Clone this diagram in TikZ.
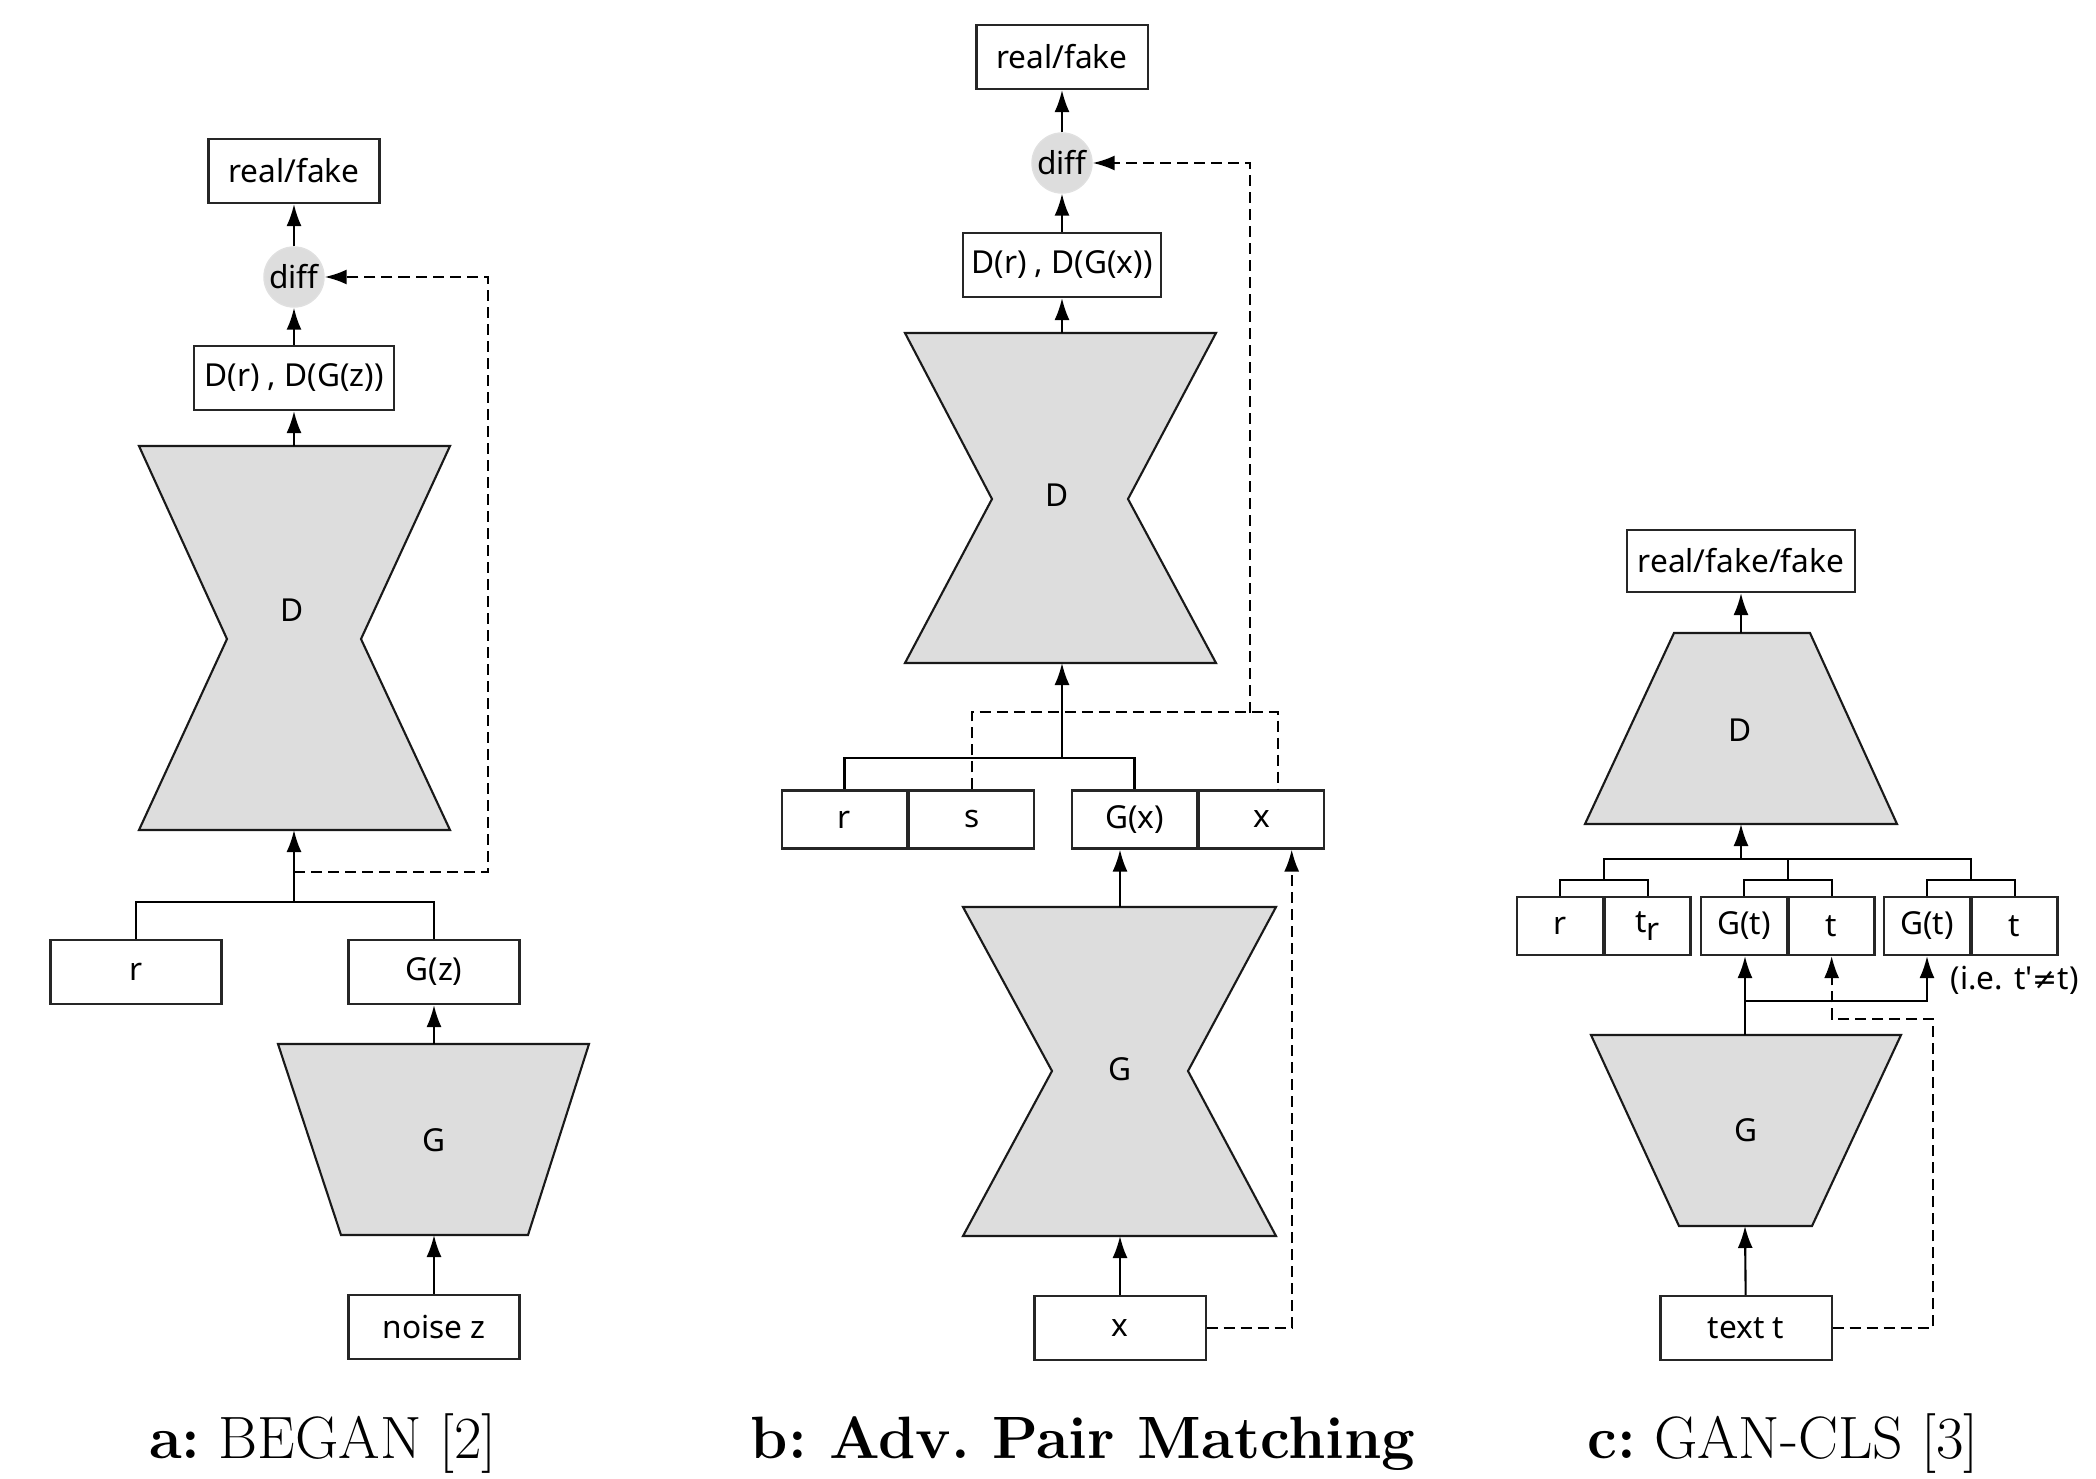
\documentclass[tikz,border=0pt]{standalone}
\usepackage{fontspec}
\setsansfont{Noto Sans}
\newfontfamily\symfont{DejaVu Sans}
\usepackage{tikz}
\usetikzlibrary{arrows.meta}
\definecolor{netgray}{HTML}{DDDDDD}

\tikzset{
  lbl/.style={font=\sffamily\fontsize{9}{10}\selectfont},
  box/.style={draw=black!85, line width=0.6pt, fill=white, lbl, minimum width=1.71cm, minimum height=0.64cm, inner sep=0pt},
  cell/.style={box, minimum width=1.25cm, minimum height=0.58cm},
  cellc/.style={box, minimum width=0.855cm, minimum height=0.58cm},
  net/.style={draw=black!90, fill=netgray, line width=0.6pt},
  diffnode/.style={circle, fill=netgray, draw=black!12, lbl, minimum size=0.6cm, inner sep=0pt},
  flow/.style={-{Latex[length=2.2mm,width=1.5mm]}, line width=0.6pt},
  link/.style={line width=0.6pt},
  fb/.style={dash pattern=on 1.1mm off 0.6mm, line width=0.6pt},
  capt/.style={font=\rmfamily\fontsize{17}{20}\selectfont\frenchspacing, inner sep=0pt, anchor=base}
}

\begin{document}
\begin{tikzpicture}[x=0.01cm,y=-0.01cm]
\useasboundingbox (0,0) rectangle (2096,1479);

%a
\node[box] (rfA) at (294,171) {real/fake};
\node[diffnode] (diffA) at (294,277) {diff};
\node[box, minimum width=2cm] (outA) at (294,378) {D(r) , D(G(z))};
\filldraw[net] (139,446) -- (450,446) -- (361,639) -- (450,830) -- (139,830) -- (227,639) -- cycle;
\node[lbl] (DA) at (292,610) {D};
\coordinate (DAtop) at (294,446);
\coordinate (DAbot) at (294,830);
\node[box] (rA) at (136,972) {r};
\node[box] (GzA) at (434,972) {G(z)};
\filldraw[net] (278,1044) -- (589,1044) -- (528,1235) -- (341,1235) -- cycle;
\node[lbl] (GA) at (434,1140) {G};
\coordinate (GAtop) at (434,1044);
\coordinate (GAbot) at (434,1235);
\node[box] (noiseA) at (434,1327) {noise z};
\coordinate (busA) at (294,902);
\coordinate (fbA) at (294,872);
\draw[link] (rA.north) |- (busA) -| (GzA.north);
\draw[flow] (busA) -- (DAbot);
\draw[flow] (DAtop) -- (outA);
\draw[flow] (outA) -- (diffA);
\draw[flow] (diffA) -- (rfA);
\draw[flow] (GAtop) -- (GzA);
\draw[flow] (noiseA) -- (GAbot);
\draw[fb,flow] (fbA) -- (488,872) |- (diffA.east);

%b
\node[box] (rfB) at (1062,57) {real/fake};
\node[diffnode] (diffB) at (1062,163) {diff};
\node[box, minimum width=1.98cm] (outB) at (1062,265) {D(r) , D(G(x))};
\filldraw[net] (905,333) -- (1216,333) -- (1128,499) -- (1216,663) -- (905,663) -- (992,499) -- cycle;
\node[lbl] (DB) at (1057,495) {D};
\coordinate (DBtop) at (1062,333);
\coordinate (DBbot) at (1062,663);
\node[cell] (rB) at (844.5,819.5) {r};
\node[cell, anchor=west] (sB) at (rB.east) {s};
\node[cell] (GxB) at (1134.5,819.5) {G(x)};
\node[cell, anchor=west] (xcB) at (GxB.east) {x};
\filldraw[net] (963,907) -- (1276,907) -- (1188,1071) -- (1276,1236) -- (963,1236) -- (1052,1071) -- cycle;
\node[lbl] (GB) at (1120,1069) {G};
\coordinate (GBtop) at (1120,907);
\coordinate (GBbot) at (1120,1236);
\node[box] (xB) at (1120,1328) {x};
\coordinate (busB) at (1062,758);
\coordinate (fbB) at (1250,713);
\draw[link] (rB.north) |- (busB) -| (GxB.north);
\draw[flow] (busB) -- (DBbot);
\draw[flow] (DBtop) -- (outB);
\draw[flow] (outB) -- (diffB);
\draw[flow] (diffB) -- (rfB);
\draw[flow] (GBtop) -- (GBtop |- GxB.south);
\draw[flow] (xB) -- (GBbot);
\draw[fb] (sB.north) -- ++(0,-77) -| ([xshift=0.16cm]xcB.north);
\draw[fb,flow] (fbB) |- (diffB.east);
\draw[fb,flow] (xB.east) -| ([xshift=0.3cm]xcB.south);

%c
\node[box, minimum width=2.28cm, minimum height=0.62cm] (rfC) at (1741,561) {real/fake/fake};
\filldraw[net] (1674,633) -- (1810,633) -- (1897,824) -- (1585,824) -- cycle;
\node[lbl] (DC) at (1740,730) {D};
\coordinate (DCtop) at (1741,633);
\coordinate (DCbot) at (1741,824);
\node[cellc] (rC) at (1560,926) {r};
\node[cellc, anchor=west] (trC) at (rC.east) {t\raisebox{-0.45ex}{\small r}};
\node[cellc] (GtC) at (1744,926) {G(t)};
\node[cellc, anchor=west] (tC) at (GtC.east) {t};
\node[cellc] (Gt2C) at (1927,926) {G(t)};
\node[cellc, anchor=west] (t2C) at (Gt2C.east) {t};
\node[lbl, anchor=west, inner sep=0pt] (neqC) at (1950,980) {(i.e. t\textquotesingle{\symfont\fontsize{8.5}{10}\selectfont ≠}t)};
\filldraw[net] (1591,1035) -- (1901,1035) -- (1812,1226) -- (1679,1226) -- cycle;
\node[lbl] (GC) at (1746,1130) {G};
\coordinate (GCtop) at (1745,1035);
\coordinate (GCbot) at (1745,1226);
\node[box] (textC) at (1746,1328) {text t};
\coordinate (busC) at (1741,859);
\coordinate (brC) at (1745,1001);
\coordinate (fbC) at (1933,1019);
\draw[link] (rC.north) -- ++(0,-16) -| (trC.north);
\draw[link] (GtC.north) -- ++(0,-16) -| (tC.north);
\draw[link] (Gt2C.north) -- ++(0,-16) -| (t2C.north);
\draw[link] ([yshift=0.16cm]rC.north east) |- (busC) -| ([yshift=0.16cm]Gt2C.north east);
\draw[link] ([yshift=0.16cm]GtC.north east) -- (GtC.north east |- busC);
\draw[flow] (busC) -- (DCbot);
\draw[flow] (DCtop) -- (rfC);
\draw[flow] (textC) -- (GCbot);
\draw[flow] (GCtop) -- (GCtop |- GtC.south);
\draw[flow] (brC) -| (Gt2C.south);
\draw[fb,flow] (textC.east) -| (fbC) -| (tC.south);

%captions
\node[capt] (capA) at (323,1458) {\textbf{a:} BEGAN [2]};
\node[capt] (capB) at (1083,1458) {\textbf{b: Adv. Pair Matching}};
\node[capt] (capC) at (1783,1458) {\textbf{c:} GAN-CLS [3]};

\end{tikzpicture}
\end{document}
